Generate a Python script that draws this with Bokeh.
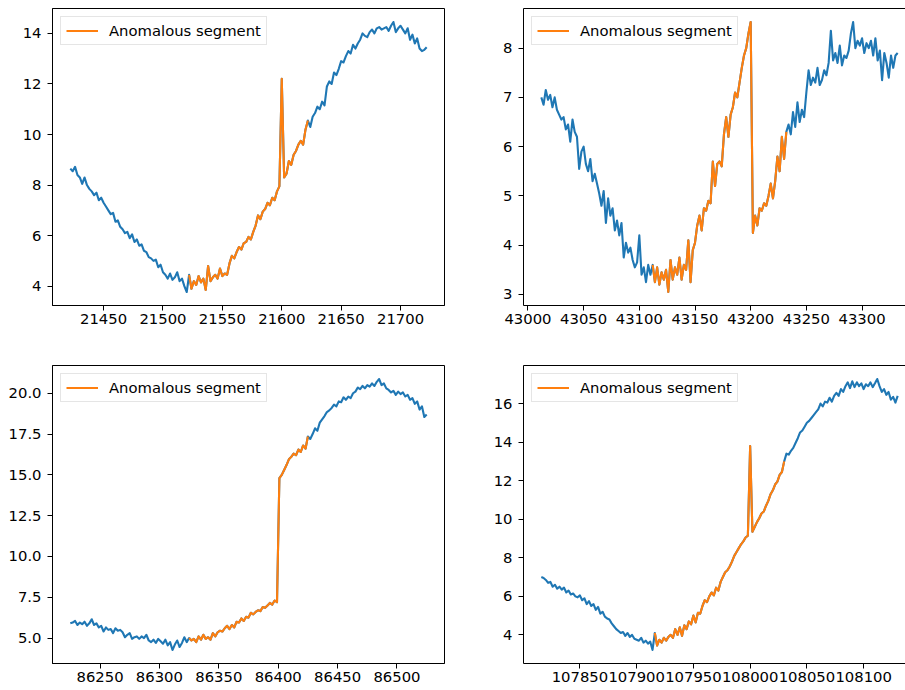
import numpy as np
from bokeh.plotting import figure
from bokeh.layouts import row, column
from bokeh.models import Range1d, FixedTicker, PrintfTickFormatter, LinearAxis
from bokeh.embed import file_html
from bokeh.resources import INLINE

BLUE = "#1f77b4"
ORANGE = "#ff7f0e"
FONT = "DejaVu Sans"
FONT_SIZE = "14.8px"
LEGEND_LABEL = "Anomalous segment"

# ---------------- data (one value every 2 x-units) ----------------
p1_x_start = 21422
p1_y = [8.65, 8.55, 8.72, 8.4, 8.3, 8.05, 8.3, 8.0, 7.85, 7.75,
        7.6, 7.7, 7.4, 7.5, 7.3, 7.15, 7.0, 6.85, 6.9, 6.55,
        6.6, 6.35, 6.25, 6.1, 6.15, 5.9, 6.05, 5.75, 5.85, 5.6,
        5.65, 5.4, 5.35, 5.15, 5.1, 5.0, 5.05, 4.75, 4.85, 4.55,
        4.45, 4.3, 4.5, 4.25, 4.35, 4.55, 4.2, 4.3, 4.0, 3.77,
        4.45, 3.9, 4.2, 4.05, 4.4, 4.15, 4.3, 3.85, 4.8, 4.2,
        4.35, 4.45, 4.3, 4.7, 4.4, 4.5, 4.45, 4.9, 5.2, 5.1,
        5.35, 5.55, 5.45, 5.7, 5.75, 5.95, 5.85, 6.15, 6.4, 6.8,
        6.65, 6.95, 7.05, 7.3, 7.2, 7.5, 7.4, 7.75, 7.95, 12.2,
        8.3, 8.45, 8.95, 8.8, 9.2, 9.35, 9.6, 9.75, 9.6, 10.2,
        10.55, 10.3, 10.7, 10.85, 11.1, 11.0, 11.3, 11.15, 11.9, 12.1,
        12.0, 12.45, 12.35, 12.6, 12.9, 12.85, 13.1, 13.3, 13.2, 13.55,
        13.4, 13.6, 13.75, 14.0, 13.9, 13.85, 14.05, 14.15, 14.0, 14.2,
        14.25, 14.15, 14.2, 14.25, 14.1, 14.3, 14.45, 14.05, 14.2, 14.3,
        14.15, 14.0, 14.2, 13.75, 13.95, 13.6, 13.8, 13.4, 13.3, 13.35,
        13.45]
p1_segment = [21522, 21622]
p1_xticks = [21450, 21500, 21550, 21600, 21650, 21700]
p1_yticks = [4, 6, 8, 10, 12, 14]

p2_x_start = 43012
p2_y = [7.0, 6.85, 7.15, 6.95, 7.05, 6.8, 7.0, 6.75, 6.65, 6.55,
        6.6, 6.35, 6.45, 6.1, 6.55, 6.3, 6.2, 5.55, 5.9, 6.0,
        5.65, 5.5, 5.75, 5.3, 5.45, 5.25, 5.05, 4.8, 5.1, 4.45,
        4.95, 4.6, 4.75, 4.3, 4.5, 4.2, 4.45, 3.75, 4.05, 3.85,
        3.95, 3.7, 3.55, 3.65, 4.2, 3.4, 3.55, 3.25, 3.6, 3.4,
        3.6, 3.25, 3.55, 3.2, 3.45, 3.3, 3.5, 3.05, 3.7, 3.3,
        3.55, 3.4, 3.75, 3.3, 3.6, 3.5, 4.1, 3.25, 3.9, 4.05,
        4.4, 4.6, 4.3, 4.75, 4.7, 4.9, 4.85, 5.7, 5.2, 5.65,
        5.7, 5.6, 6.25, 6.6, 6.2, 6.65, 6.8, 7.1, 7.0, 7.3,
        7.6, 7.85, 8.0, 8.3, 8.53, 4.25, 4.6, 4.4, 4.75, 4.7,
        4.85, 4.8, 5.0, 5.25, 4.95, 5.3, 5.8, 5.5, 6.2, 5.75,
        6.3, 6.45, 6.25, 6.7, 6.4, 6.9, 6.5, 6.75, 6.6, 7.1,
        7.55, 7.25, 7.4, 7.3, 7.6, 7.25, 7.35, 7.55, 7.45, 7.7,
        8.35, 7.75, 7.9, 7.7, 8.05, 7.65, 7.85, 7.8, 7.95, 8.3,
        8.53, 8.0, 8.15, 8.05, 8.2, 7.9, 8.1, 8.0, 8.15, 7.85,
        8.2, 7.75, 7.95, 7.35, 7.9, 7.7, 7.4, 7.85, 7.6, 7.85,
        7.9]
p2_segment = [43112, 43232]
p2_xticks = [43000, 43050, 43100, 43150, 43200, 43250, 43300]
p2_yticks = [3, 4, 5, 6, 7, 8]

p3_x_start = 86225
p3_y = [5.9, 5.95, 6.05, 5.8, 5.95, 5.85, 6.0, 5.75, 5.9, 6.15,
        5.8, 5.9, 5.65, 5.75, 5.4, 5.65, 5.5, 5.55, 5.3, 5.6,
        5.45, 5.5, 5.35, 5.05, 5.2, 5.3, 4.95, 5.05, 5.1, 4.95,
        5.1, 5.0, 5.2, 4.85, 4.75, 4.9, 4.7, 4.95, 4.8, 4.65,
        4.9, 4.55, 4.75, 4.27, 4.6, 4.85, 4.45, 4.7, 5.05, 4.75,
        5.0, 4.85, 4.95, 4.75, 5.1, 4.9, 5.2, 4.95, 5.05, 4.9,
        5.3, 5.1, 5.35, 5.45, 5.4, 5.6, 5.75, 5.55, 5.8, 5.65,
        6.0, 5.95, 6.2, 6.05, 6.3, 6.25, 6.55, 6.45, 6.6, 6.7,
        6.65, 6.9, 6.85, 7.0, 7.15, 7.05, 7.3, 7.2, 14.8, 15.0,
        15.3, 15.6, 15.95, 16.1, 16.3, 16.2, 16.55, 16.4, 16.8, 16.6,
        17.35, 17.2, 17.5, 17.85, 17.7, 18.2, 18.4, 18.6, 18.85, 18.95,
        19.1, 19.3, 19.2, 19.5, 19.45, 19.75, 19.6, 19.8, 19.7, 20.0,
        20.1, 20.35, 20.25, 20.45, 20.3, 20.5, 20.4, 20.6, 20.45, 20.7,
        20.87, 20.5, 20.6, 20.3, 20.2, 20.05, 20.15, 19.9, 20.1, 19.95,
        20.05, 19.8, 19.9, 19.6, 19.7, 19.35, 19.5, 19.0, 19.2, 18.55,
        18.7]
p3_segment = [86325, 86425]
p3_xticks = [86250, 86300, 86350, 86400, 86450, 86500]
p3_yticks = [5.0, 7.5, 10.0, 12.5, 15.0, 17.5, 20.0]

p4_x_start = 107816
p4_y = [7.0, 6.95, 6.85, 6.7, 6.75, 6.5, 6.6, 6.4, 6.5, 6.35,
        6.45, 6.2, 6.3, 6.1, 6.15, 6.0, 5.95, 6.05, 5.8, 5.9,
        5.6, 5.75, 5.5, 5.6, 5.3, 5.45, 5.1, 5.2, 4.95, 4.85,
        4.8, 4.6, 4.45, 4.3, 4.2, 4.1, 4.15, 3.95, 4.1, 3.9,
        4.0, 3.8, 3.75, 3.7, 3.85, 3.6, 3.7, 3.55, 3.65, 3.22,
        4.1, 3.45, 3.75, 3.6, 3.85, 3.7, 3.9, 4.0, 3.85, 4.3,
        4.0, 4.4, 3.95, 4.5, 4.3, 4.7, 4.55, 5.0, 4.65, 5.15,
        5.1, 5.5, 5.8, 5.7, 6.0, 6.2, 6.05, 6.45, 6.3, 6.75,
        7.0, 7.25, 7.35, 7.55, 7.8, 8.1, 8.3, 8.5, 8.7, 8.85,
        9.05, 9.15, 13.8, 9.35, 9.6, 9.85, 10.05, 10.3, 10.4, 10.7,
        10.95, 11.3, 11.5, 11.8, 11.95, 12.3, 12.45, 13.0, 13.4, 13.35,
        13.55, 13.7, 13.95, 14.2, 14.5, 14.6, 14.8, 15.0, 15.1, 15.25,
        15.4, 15.55, 15.7, 16.0, 15.85, 16.1, 16.05, 16.3, 16.1, 16.4,
        16.55, 16.4, 16.75, 16.6, 16.9, 17.1, 16.8, 17.15, 16.85, 17.1,
        16.9, 17.05, 16.75, 17.0, 16.9, 17.1, 16.85, 17.05, 17.27, 16.9,
        16.6, 16.75, 16.45, 16.6, 16.2, 16.35, 16.05, 16.4]
p4_segment = [107916, 108030]
p4_xticks = [107850, 107900, 107950, 108000, 108050, 108100]
p4_yticks = [4, 6, 8, 10, 12, 14, 16]

X_STEP = 2

# ---------------- layout constants ----------------
FRAME_W = 392          # full axes width (as in the original figure)
LINE_W = 2.1


def style_axis(ax, standoff):
    ax.axis_line_color = "black"
    ax.axis_line_width = 1
    ax.major_tick_line_color = "black"
    ax.major_tick_line_width = 1
    ax.major_tick_out = 5
    ax.major_tick_in = 0
    ax.minor_tick_out = 0
    ax.minor_tick_in = 0
    ax.major_label_text_font = FONT
    ax.major_label_text_font_size = FONT_SIZE
    ax.major_label_text_color = "black"
    ax.major_label_standoff = standoff


def make_panel(x_start, ys, segment, xticks, yticks, yfmt, width, height,
               bl, br, bt, bb, visible_w):
    ys = np.array(ys, dtype=float)
    xs = x_start + X_STEP * np.arange(len(ys))
    x0, x1 = xs.min(), xs.max()
    mx = 0.05 * (x1 - x0)
    full0, full1 = x0 - mx, x1 + mx
    xend = full0 + (full1 - full0) * visible_w / FRAME_W
    y0, y1 = ys.min(), ys.max()
    my = 0.05 * (y1 - y0)

    p = figure(width=width, height=height,
               x_range=Range1d(full0, xend), y_range=Range1d(y0 - my, y1 + my),
               output_backend="svg", toolbar_location=None,
               min_border_left=bl, min_border_right=br,
               min_border_top=bt, min_border_bottom=bb,
               background_fill_color="white", border_fill_color="white")
    p.xgrid.visible = False
    p.ygrid.visible = False

    p.xaxis.ticker = FixedTicker(ticks=xticks)
    p.xaxis.formatter = PrintfTickFormatter(format="%d")
    p.yaxis.ticker = FixedTicker(ticks=yticks)
    p.yaxis.formatter = PrintfTickFormatter(format=yfmt)
    style_axis(p.xaxis[0], 3)
    style_axis(p.yaxis[0], 6)

    if visible_w < FRAME_W:
        # right edge of the axes is cut off by the window: draw only top/left/bottom
        p.outline_line_color = None
        top = LinearAxis(ticker=FixedTicker(ticks=[]), major_label_text_font_size="0px",
                         major_tick_out=0, major_tick_in=0, minor_tick_out=0, minor_tick_in=0,
                         axis_line_color="black", axis_line_width=1)
        p.add_layout(top, "above")
    else:
        p.outline_line_color = "black"
        p.outline_line_width = 1
        p.outline_line_alpha = 1

    p.line(xs, ys, line_color=BLUE, line_width=LINE_W, line_join="round")
    mask = (xs >= segment[0]) & (xs <= segment[1])
    p.line(xs[mask], ys[mask], line_color=ORANGE, line_width=LINE_W, line_join="round",
           legend_label=LEGEND_LABEL)

    lg = p.legend[0]
    lg.location = "top_left"
    lg.margin = 8
    lg.padding = 5
    lg.spacing = 0
    lg.glyph_width = 32
    lg.glyph_height = 17
    lg.label_height = 17
    lg.label_standoff = 11
    lg.label_text_font = FONT
    lg.label_text_font_size = FONT_SIZE
    lg.label_text_color = "black"
    lg.border_line_color = "#cccccc"
    lg.border_line_width = 1
    lg.background_fill_color = "white"
    lg.background_fill_alpha = 0.8
    return p


W_LEFT = 470
W_RIGHT = 905 - W_LEFT
VIS_RIGHT = W_RIGHT - 53

p1 = make_panel(p1_x_start, p1_y, p1_segment, p1_xticks, p1_yticks, "%d",
                W_LEFT, 345, 52, W_LEFT - 444, 8, 40, FRAME_W)
p2 = make_panel(p2_x_start, p2_y, p2_segment, p2_xticks, p2_yticks, "%d",
                W_RIGHT, 345, 53, 0, 8, 40, VIS_RIGHT)
p3 = make_panel(p3_x_start, p3_y, p3_segment, p3_xticks, p3_yticks, "%.1f",
                W_LEFT, 345, 52, W_LEFT - 444, 20, 27, FRAME_W)
p4 = make_panel(p4_x_start, p4_y, p4_segment, p4_xticks, p4_yticks, "%d",
                W_RIGHT, 345, 53, 0, 20, 27, VIS_RIGHT)

layout = column(row(p1, p2), row(p3, p4))
open("out.html", "w").write(file_html(layout, INLINE))
